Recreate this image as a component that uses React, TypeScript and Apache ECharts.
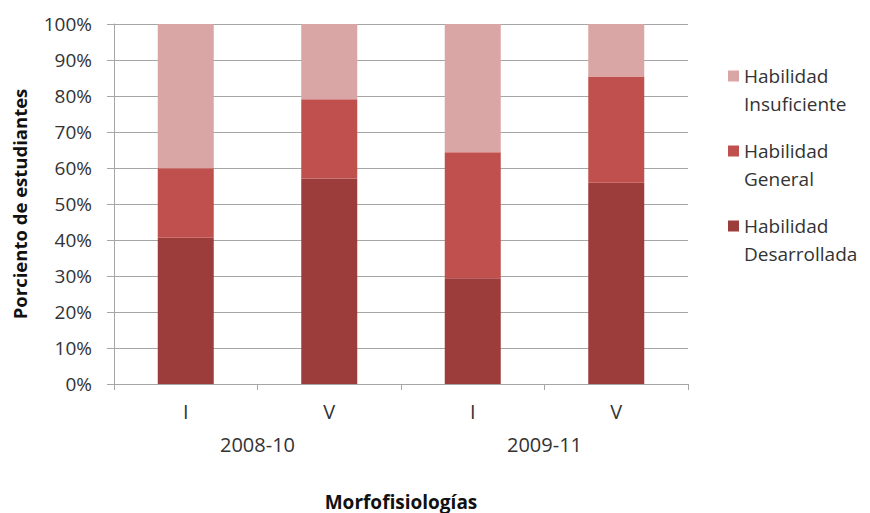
import React, { useEffect, useRef } from "react";
import * as echarts from "echarts";

const categories = ["I", "V", "I", "V"];
const groups = ["2008-10", "2009-11"];
const desarrollada = [40.6, 57.1, 29.4, 55.9];
const general = [19.3, 22.0, 35.0, 29.5];
const insuficiente = [40.1, 20.9, 35.6, 14.6];
const yTicks = [0, 10, 20, 30, 40, 50, 60, 70, 80, 90, 100];

const FONT = "'Open Sans', Lato, sans-serif";
const TXT = "#333333";
const GRID = "#a6a6a6";

export default function App() {
  const ref = useRef<HTMLDivElement>(null);
  useEffect(() => {
    if (!ref.current) return;
    const chart = echarts.init(ref.current, null, { renderer: "svg" });
    chart.setOption({
      animation: false,
      textStyle: { fontFamily: FONT },
      grid: {
        left: 114,
        right: 182,
        top: 24,
        bottom: 129,
        containLabel: false,
        outerBoundsMode: "none",
      },
      legend: {
        orient: "vertical",
        left: 728,
        top: 34,
        padding: 0,
        itemWidth: 11,
        itemHeight: 11,
        itemGap: -9,
        icon: "rect",
        data: ["Habilidad\nInsuficiente", "Habilidad\nGeneral", "Habilidad\nDesarrollada"],
        formatter: (n: string) => "\n" + n,
        textStyle: {
          fontFamily: FONT,
          fontSize: 19,
          color: TXT,
          lineHeight: 28,
        },
      },
      xAxis: [
        {
          type: "category",
          data: categories,
          position: "bottom",
          axisLine: { lineStyle: { color: GRID } },
          axisTick: { show: true, length: 6, lineStyle: { color: GRID } },
          axisLabel: { fontSize: 20, color: TXT, margin: 17, fontFamily: FONT },
          name: "Morfofisiologías",
          nameLocation: "middle",
          nameGap: 108,
          nameTextStyle: { fontSize: 19, fontWeight: "bold", color: "#111", fontFamily: FONT },
        },
        {
          type: "category",
          data: groups,
          position: "bottom",
          offset: 33,
          axisLine: { show: false },
          axisTick: { show: false },
          axisLabel: { fontSize: 20, color: TXT, margin: 17, fontFamily: FONT },
        },
      ],
      yAxis: {
        type: "value",
        min: yTicks[0],
        max: yTicks[yTicks.length - 1],
        interval: 10,
        axisLine: { show: true, lineStyle: { color: GRID } },
        axisTick: { show: true, length: 7, lineStyle: { color: GRID } },
        splitLine: { lineStyle: { color: GRID } },
        axisLabel: { fontSize: 19, color: TXT, margin: 22, formatter: "{value}%", fontFamily: FONT },
        name: "Porciento de estudiantes",
        nameLocation: "middle",
        nameGap: 85,
        nameTextStyle: { fontSize: 18.5, fontWeight: "bold", color: "#111", fontFamily: FONT },
      },
      series: [
        {
          name: "Habilidad\nDesarrollada",
          type: "bar",
          stack: "s",
          barWidth: 56,
          data: desarrollada,
          itemStyle: { color: "#9c3d3c" },
        },
        {
          name: "Habilidad\nGeneral",
          type: "bar",
          stack: "s",
          barWidth: 56,
          data: general,
          itemStyle: { color: "#c0504d" },
        },
        {
          name: "Habilidad\nInsuficiente",
          type: "bar",
          stack: "s",
          barWidth: 56,
          data: insuficiente,
          itemStyle: { color: "#d9a5a5" },
        },
      ],
    });
    return () => chart.dispose();
  }, []);
  return <div ref={ref} style={{ width: 870, height: 513, position: "absolute", left: 0, top: 0 }} />;
}
